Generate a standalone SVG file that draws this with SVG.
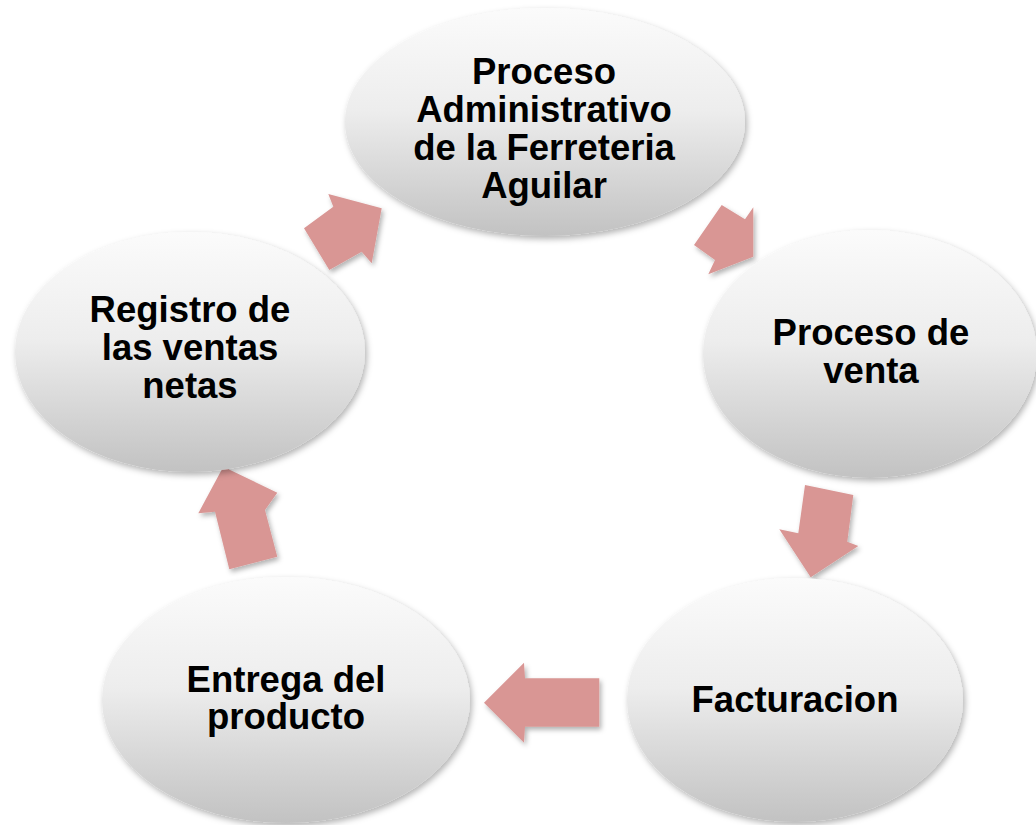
<svg xmlns="http://www.w3.org/2000/svg" width="1036" height="825" viewBox="0 0 1036 825">
<defs>
<linearGradient id="eg" x1="0" y1="0" x2="0" y2="1">
<stop offset="0" stop-color="#fbfbfb"/>
<stop offset="0.45" stop-color="#ededed"/>
<stop offset="1" stop-color="#c2c2c2"/>
</linearGradient>
<filter id="sh" x="-20%" y="-20%" width="140%" height="140%">
<feDropShadow dx="2" dy="3" stdDeviation="3" flood-color="#000" flood-opacity="0.3"/>
</filter>
<filter id="sha" x="-30%" y="-30%" width="160%" height="160%">
<feDropShadow dx="2" dy="3" stdDeviation="2.5" flood-color="#000" flood-opacity="0.3"/>
</filter>
</defs>
<style>
.node ellipse{fill:url(#eg);filter:url(#sh);}
.node text{font-family:"Liberation Sans",Arial,sans-serif;font-weight:bold;font-size:36.5px;fill:#000;text-anchor:middle;}
.arr{fill:#d99694;filter:url(#sha);}
</style>
<rect width="1036" height="825" fill="#ffffff"/>
<g id="connectors">
<polygon class="arr" points="381.7,208.3 328.3,194 333.3,206.7 304,228.3 329.3,270 361.7,251.7 371.7,263.3"/>
<polygon class="arr" points="721.7,205 745,219.3 753.3,207.3 753.3,256.7 708.3,274.3 715,260 694,245"/>
<polygon class="arr" points="805,485 853.3,495 847.3,541.7 858.3,546 810.7,577.3 779.3,529.3 798.3,533.3"/>
<polygon class="arr" points="599.3,678.3 599.3,726.7 525,726.7 524,742.7 484,702.7 524,662.7 525,678.3"/>
<polygon class="arr" points="229.3,569.3 277.3,556.7 265,510 277.3,492.7 223.3,466.7 198.3,513.3 215,511.7"/>
</g>
<g id="node-admin" class="node">
<ellipse cx="545" cy="122" rx="200" ry="114"/>
<text x="544" y="84">Proceso</text>
<text x="544" y="122">Administrativo</text>
<text x="544" y="160">de la Ferreteria</text>
<text x="544" y="198">Aguilar</text>
</g>
<g id="node-venta" class="node">
<ellipse cx="870" cy="354" rx="167" ry="124"/>
<text x="871" y="345">Proceso de</text>
<text x="871" y="383">venta</text>
</g>
<g id="node-factura" class="node">
<ellipse cx="795" cy="700" rx="168" ry="122"/>
<text x="795" y="712">Facturacion</text>
</g>
<g id="node-entrega" class="node">
<ellipse cx="286" cy="700" rx="184" ry="123"/>
<text x="286" y="692">Entrega del</text>
<text x="286" y="729">producto</text>
</g>
<g id="node-registro" class="node">
<ellipse cx="190" cy="352" rx="175" ry="120"/>
<text x="190" y="322">Registro de</text>
<text x="190" y="360">las ventas</text>
<text x="190" y="398">netas</text>
</g>
</svg>
